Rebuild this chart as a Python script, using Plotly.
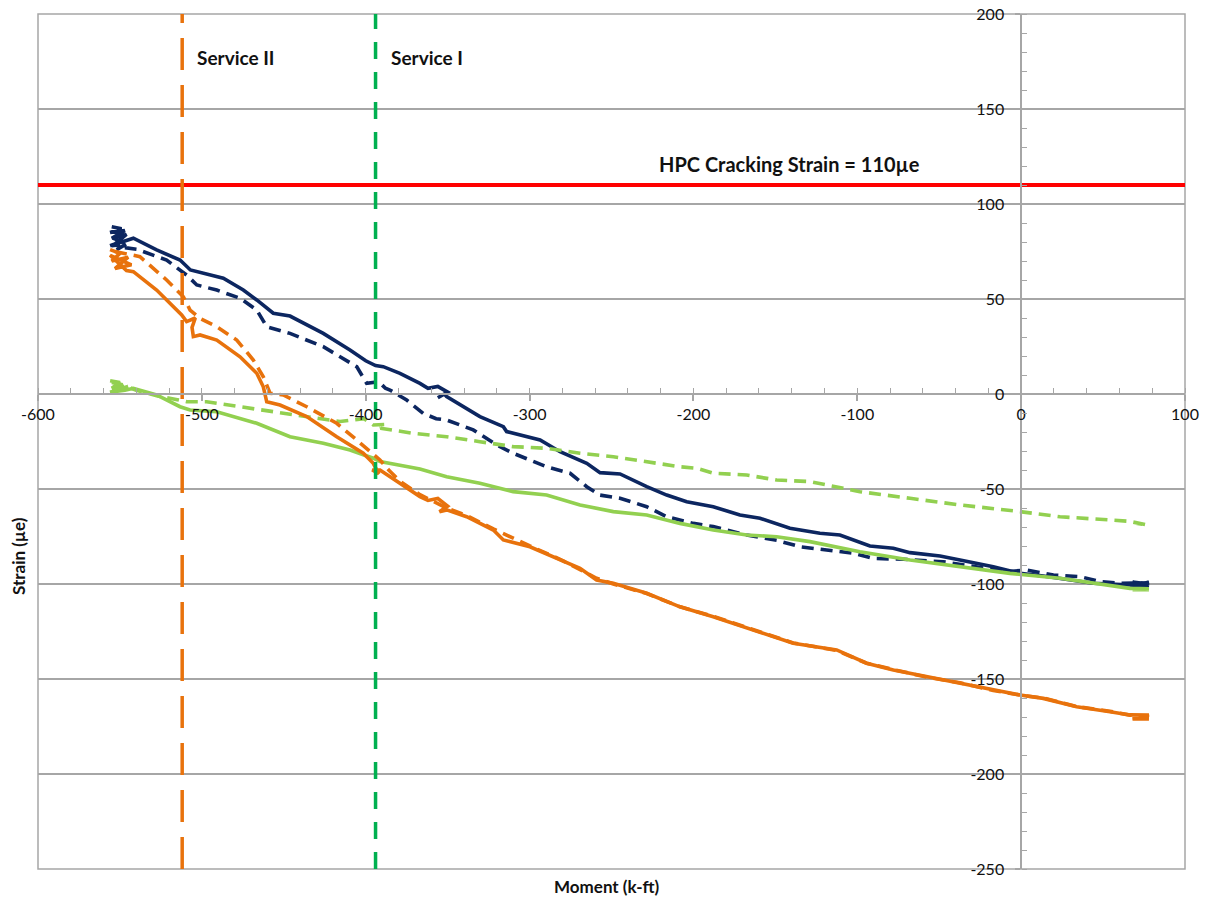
import plotly.graph_objects as go

# Moment (k-ft) vs. strain (micro-strain) for three gauge pairs
navy_solid_x = [-555, -549, -556, -547, -555, -546, -553, -545, -556, -548, -541.8, -527.6, -513.3, -507,
                -503, -486.9, -474.7, -466.5, -456.4, -446.2, -425.9, -409.6, -400, -394, -389.3, -379.1,
                -366.9, -362, -356, -350, -356, -352, -350.6, -330.3, -316, -314, -293.6, -281.4, -265.1,
                -257, -244.8, -228.5, -216.3, -204.1, -187.9, -171.6, -159.4, -141.1, -122.8, -110.6,
                -92.3, -78, -67.8, -49.5, -37.3, -17, -0.7, 13.5, 44, 66.4, 78, 68, 78, 70, 78]
navy_solid_y = [88, 87, 85, 86, 82, 84, 79, 81, 78, 80, 82, 75.8, 70.5, 65.3,
                64.4, 60.9, 54.7, 49.5, 42.5, 41, 31.9, 23.2, 17.5, 15, 14.4, 10.9,
                5.6, 3, 4, 1, -2, 0, -1.4, -11.9, -17.2, -19.8, -24.2, -30.4, -36.5,
                -41.4, -42.1, -48.8, -53.2, -56.7, -59.3, -63.7, -65.4, -70.7, -73.3, -74.2,
                -80, -81.2, -83.5, -85.3, -87.4, -90.9, -94.4, -95.8, -99.6, -100.5, -101, -99, -100, -101, -99]

navy_dash_x = [-554, -548, -555, -546, -552, -547, -539.8, -521.5, -509.3, -505.2, -503.1, -490.9,
               -476.7, -466.5, -460.4, -446.2, -425.9, -405.5, -399.4, -392, -388, -385.2, -375,
               -364.9, -357, -350.6, -334.4, -320.1, -310, -289.6, -275.3, -265.1, -257, -244.8,
               -228.5, -216.3, -200.1, -187.9, -167.5, -149.2, -134.9, -118.7, -102.4, -90.2, -71.9,
               -47.5, -27.2, -8.8, 3.4, 19.7, 36, 48.2, 60.3, 78]
navy_dash_y = [82, 80, 78, 79, 76, 77, 76.2, 70.5, 62.6, 59.1, 57.4, 54.7,
               50.4, 44.2, 35.4, 31.9, 24.9, 14.4, 5.6, 6.5, 3, 2.1, -3.2,
               -10.2, -13, -13.7, -18.9, -26.8, -31.2, -38.3, -41.7, -48.8, -53.2, -54.9,
               -59.3, -64.6, -68.1, -69.8, -74.2, -77, -80.4, -82.1, -83.8, -86.5, -87,
               -88.3, -90.9, -93.5, -92.6, -95.3, -96.1, -98.8, -99.6, -99.5]

orange_solid_x = [-556, -550, -555, -545, -553, -543, -556, -546, -541.8, -527.6, -512.3, -509.3, -504,
                  -506, -505.2, -501.1, -490.9, -476.7, -466.5, -462.5, -460.4, -452.3, -436, -417.7,
                  -401.5, -395.4, -392, -396, -391.3, -379.1, -366.9, -362, -356, -350, -355,
                  -350.6, -338.4, -322.1, -316, -299.8, -281.4, -269.2, -259.1, -248.9, -228.5,
                  -208.2, -187.9, -159.4, -139.1, -112.6, -94.3, -78, -57.7, -37.3, -17, -0.7,
                  13.5, 33.9, 54.2, 66.4, 78, 68, 78]
orange_solid_y = [76, 74, 70, 72, 66, 68, 73, 65, 64.4, 54.7, 41.6, 38.1, 40,
                  35, 30.2, 31.1, 28.4, 19.6, 10.9, 3.8, -4.1, -5.8, -11.9, -22.5,
                  -31.2, -36.5, -42, -40, -40, -47, -54, -56, -55, -59, -62,
                  -61, -64.6, -71.6, -76.8, -80.4, -87.4, -91.7, -97.9, -99.6, -104.9,
                  -112, -117.2, -125.1, -131.2, -134.7, -141.7, -145.3, -148.8, -152.3, -155.8, -158.4,
                  -160.2, -164.6, -167.2, -168.9, -169, -171, -171]

orange_dash_x = [-553, -547, -541.8, -537.8, -521.5, -511.3, -507.2, -501.1, -490.9, -478.7, -468.6,
                 -462.5, -458.4, -450.3, -436, -417.7, -405.5, -391.3, -386, -379, -366.9, -350.6,
                 -338.4, -322.1, -299.8, -281.4, -259.1, -248.9, -228.5, -208.2, -187.9, -159.4,
                 -139.1, -112.6, -94.3, -78, -57.7, -37.3, -17, -0.7, 13.5, 33.9, 54.2, 66.4, 78]
orange_dash_y = [75, 74, 73.2, 72.3, 60, 51.2, 44.2, 39.8, 35.4, 28.4, 17.9,
                 9.1, 0.4, -0.5, -6.7, -15.4, -24.2, -34.7, -40, -46, -53, -60,
                 -64, -71, -80, -87, -97, -100, -105, -112, -117, -125,
                 -131, -135, -141.7, -145, -149, -152, -156, -158.5, -160, -164.5, -167, -169, -170]

green_solid_x = [-556, -550, -555, -548, -553, -545, -556, -547, -541.8, -527.6, -513.3, -507.2,
                 -490.9, -466.5, -446.2, -425.9, -409.6, -395.4, -391.3, -366.9, -350.6, -330.3,
                 -310, -289.6, -269.2, -248.9, -228.5, -208.2, -187.9, -167.5, -149.2, -128.9,
                 -98.4, -67.8, -37.3, -6.8, 23.7, 44, 66.4, 78, 68, 78]
green_solid_y = [7, 6, 3, 5, 2, 4, 1, 2, 3, -0.5, -6.7, -8.4,
                 -9.3, -15.4, -22.5, -25.9, -29.5, -33.8, -35.6, -39.5, -43.5, -47,
                 -51.4, -53.2, -58.4, -61.9, -63.7, -68.1, -71.6, -74.2, -75.1, -77.7,
                 -83, -87.4, -90.9, -94.4, -97, -99.6, -102.3, -102.5, -103, -103]

green_dash_x = [-555, -549, -554, -546, -540, -527, -515, -509.3, -497.1, -476.7, -456.4, -436,
                -415.7, -401, -395.4, -388, -391, -370.9, -350.6, -330.3, -310, -289.6, -269.2,
                -248.9, -228.5, -208.2, -198, -187.9, -167.5, -149.2, -128.9, -98.4, -67.8,
                -37.3, -0.7, 23.7, 54.2, 66, 76.6, 70, 78]
green_dash_y = [6, 5, 2, 4, 2, -1, -3, -4.1, -4.1, -6.7, -9.3, -11.9,
                -14.5, -13, -16.3, -16, -18, -20.7, -22.5, -25.1, -27.7, -28.6, -31.2,
                -33, -35.6, -38.3, -39.1, -41.7, -42.6, -45.3, -46.1, -51.4, -54.9,
                -58.4, -61.9, -64.6, -66.3, -67, -68.9, -68, -69]

# Reference limits
service_ii_moment = -512
service_i_moment = -394
cracking_strain = 110

x_range = [-600, 100]
y_range = [-250, 200]
x_tick_values = [-600, -500, -400, -300, -200, -100, 0, 100]
x_tick_labels = ["-600", "-500", "-400", "-300", "-200", "-100", "0", "100"]
y_tick_values = [-250, -200, -150, -100, -50, 0, 50, 100, 150, 200]
y_tick_labels = ["-250", "-200", "-150", "-100", "-50", "0", "50", "100", "150", "200"]

NAVY = "#0C2660"
ORANGE = "#E8720C"
LIME = "#92D050"
GREEN = "#00B050"
RED = "#FF0000"
GRID = "#A6A6A6"
TEXT = "#111111"
FONT = "Lato"

fig = go.Figure()

series = [
    (navy_solid_x, navy_solid_y, NAVY, "solid"),
    (navy_dash_x, navy_dash_y, NAVY, "12px,7px"),
    (green_solid_x, green_solid_y, LIME, "solid"),
    (green_dash_x, green_dash_y, LIME, "12px,7px"),
    (orange_dash_x, orange_dash_y, ORANGE, "12px,7px"),
    (orange_solid_x, orange_solid_y, ORANGE, "solid"),
]
for xs, ys, color, dash in series:
    fig.add_trace(go.Scatter(x=xs, y=ys, mode="lines",
                             line=dict(color=color, width=3.6, dash=dash),
                             hoverinfo="skip"))

# Cracking strain limit
fig.add_trace(go.Scatter(x=x_range, y=[cracking_strain, cracking_strain], mode="lines",
                         line=dict(color=RED, width=4), hoverinfo="skip"))

# Service moment limits
fig.add_trace(go.Scatter(x=[service_ii_moment, service_ii_moment], y=y_range, mode="lines",
                         line=dict(color=ORANGE, width=3.5, dash="32px,15px"), hoverinfo="skip"))
fig.add_trace(go.Scatter(x=[service_i_moment, service_i_moment], y=y_range, mode="lines",
                         line=dict(color=GREEN, width=3.5, dash="17px,13px"), hoverinfo="skip"))

bold = dict(family=FONT, size=19, color=TEXT)
annotations = [
    dict(x=service_ii_moment + 8, y=177, xref="x", yref="y", text="<b>Service II</b>",
         showarrow=False, xanchor="left", yanchor="middle", font=bold),
    dict(x=service_i_moment + 8, y=177, xref="x", yref="y", text="<b>Service I</b>",
         showarrow=False, xanchor="left", yanchor="middle", font=bold),
    dict(x=-222, y=121, xref="x", yref="y", text="<b>HPC Cracking Strain = 110µe</b>",
         showarrow=False, xanchor="left", yanchor="middle", font=dict(family=FONT, size=20, color=TEXT)),
    dict(x=0.496, y=-0.02, xref="paper", yref="paper", text="<b>Moment (k-ft)</b>",
         showarrow=False, xanchor="center", yanchor="middle",
         font=dict(family=FONT, size=17, color=TEXT)),
    dict(x=-0.0175, y=0.366, xref="paper", yref="paper", text="<b>Strain (µe)</b>",
         showarrow=False, xanchor="center", yanchor="middle", textangle=-90,
         font=dict(family=FONT, size=17, color=TEXT)),
]

x_cross = (0 - y_range[0]) / (y_range[1] - y_range[0])
y_cross = (0 - x_range[0]) / (x_range[1] - x_range[0])

fig.update_layout(
    width=1212, height=903,
    margin=dict(l=38, r=27, t=14, b=34, autoexpand=False),
    paper_bgcolor="white", plot_bgcolor="white",
    showlegend=False,
    annotations=annotations,
    shapes=[dict(type="rect", xref="paper", yref="paper", x0=0, y0=0, x1=1, y1=1,
                 line=dict(color=GRID, width=1.5), layer="below")],
    xaxis=dict(range=x_range, tickmode="array", tickvals=x_tick_values, ticktext=x_tick_labels,
               showgrid=False, zeroline=False,
               showline=True, linecolor=GRID, linewidth=1.5, automargin=False,
               anchor="free", position=x_cross,
               ticks="outside", ticklen=6, tickcolor=GRID, tickwidth=1.5,
               minor=dict(tick0=0, dtick=20, ticks="inside", ticklen=5, tickcolor=GRID, tickwidth=1,
                          showgrid=False),
               tickfont=dict(family=FONT, size=16, color=TEXT)),
    yaxis=dict(range=y_range, tickmode="array", tickvals=y_tick_values, ticktext=y_tick_labels,
               showgrid=True, gridcolor=GRID, gridwidth=1.5,
               zeroline=False, showline=True, linecolor=GRID, linewidth=1.5, automargin=False,
               anchor="free", position=y_cross,
               ticks="outside", ticklen=5, tickcolor=GRID, tickwidth=1.5,
               ticklabelstandoff=8,
               minor=dict(tick0=0, dtick=10, ticks="inside", ticklen=5, tickcolor=GRID, tickwidth=1,
                          showgrid=False),
               tickfont=dict(family=FONT, size=16, color=TEXT)),
)

fig.write_html("out.html")
